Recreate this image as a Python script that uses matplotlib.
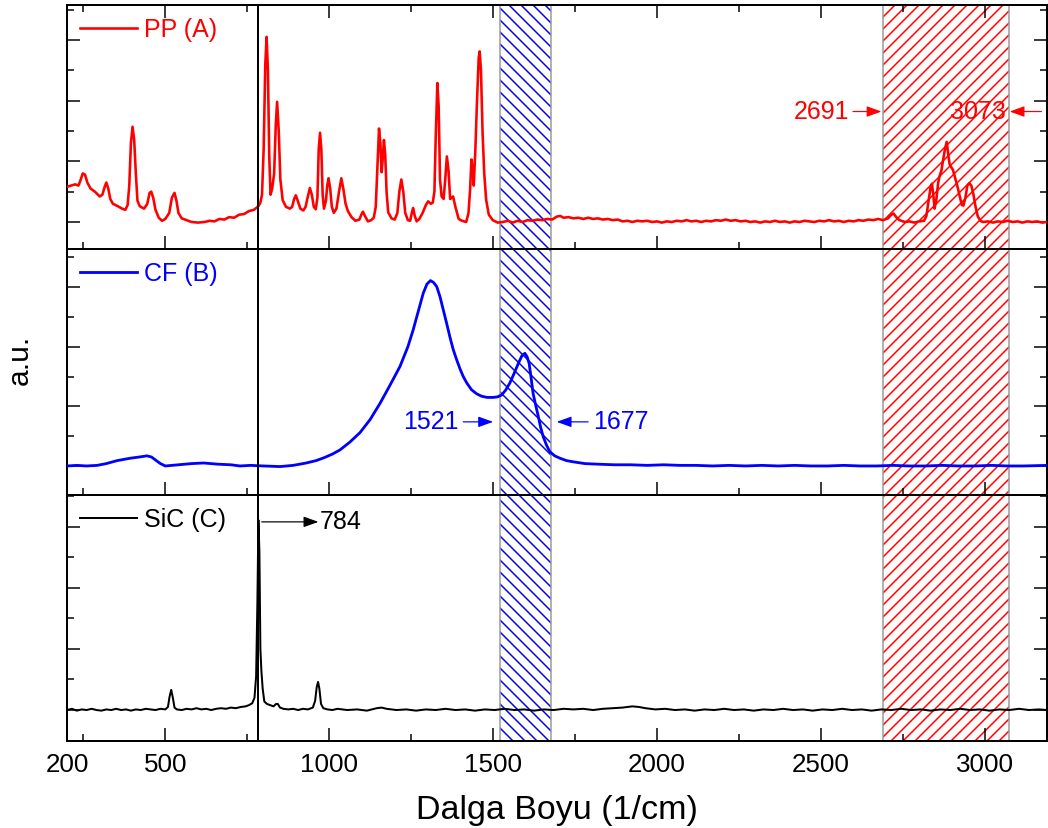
import numpy as np
import matplotlib
matplotlib.use('Agg')
import matplotlib.pyplot as plt
from matplotlib.ticker import MultipleLocator, FixedLocator

plt.rcParams['font.family'] = ['Liberation Sans', 'DejaVu Sans']
plt.rcParams['hatch.linewidth'] = 1.5

# Raman spektrumlari (dalga sayisi, yogunluk)
pp = [(200, 0.58), (212, 0.60), (225, 0.62), (235, 0.60), (242, 0.70), (248, 0.80), (255, 0.78),
      (262, 0.65), (272, 0.55), (285, 0.50), (300, 0.42), (308, 0.45), (315, 0.58), (320, 0.65),
      (326, 0.55), (332, 0.38), (340, 0.30), (355, 0.26), (368, 0.22), (378, 0.20), (385, 0.28),
      (390, 0.60), (395, 1.30), (400, 1.57), (405, 1.35), (410, 0.80), (415, 0.35), (422, 0.26),
      (435, 0.22), (445, 0.30), (452, 0.48), (457, 0.50), (463, 0.40), (470, 0.20), (480, 0.07),
      (490, 0.02), (500, 0.05), (512, 0.15), (520, 0.40), (528, 0.48), (534, 0.35), (540, 0.15),
      (550, 0.06), (565, 0.03), (580, 0.00), (600, -0.01), (620, 0.00), (635, 0.02), (650, 0.01),
      (665, 0.05), (680, 0.04), (695, 0.08), (710, 0.07), (725, 0.12), (740, 0.13), (755, 0.18),
      (770, 0.20), (784, 0.26), (790, 0.32), (795, 0.45), (800, 1.20), (805, 2.60), (809, 3.05),
      (813, 2.50), (817, 1.10), (821, 0.45), (826, 0.55), (832, 0.80), (837, 1.60), (841, 1.98),
      (846, 1.50), (851, 0.70), (858, 0.36), (868, 0.25), (880, 0.22), (887, 0.25), (893, 0.38),
      (898, 0.44), (904, 0.35), (912, 0.22), (921, 0.19), (928, 0.25), (934, 0.40), (941, 0.56),
      (947, 0.45), (953, 0.25), (959, 0.21), (964, 0.40), (968, 1.20), (972, 1.47), (976, 1.20),
      (980, 0.45), (984, 0.22), (990, 0.35), (994, 0.60), (998, 0.72), (1003, 0.55), (1008, 0.25),
      (1014, 0.15), (1022, 0.22), (1030, 0.50), (1037, 0.72), (1043, 0.55), (1050, 0.30),
      (1057, 0.18), (1068, 0.08), (1080, 0.02), (1092, 0.04), (1098, 0.12), (1103, 0.17),
      (1109, 0.10), (1118, 0.01), (1128, 0.03), (1136, 0.07), (1142, 0.25), (1147, 0.90),
      (1152, 1.54), (1156, 1.30), (1160, 0.82), (1164, 1.10), (1167, 1.35), (1171, 1.10),
      (1175, 0.50), (1180, 0.16), (1190, 0.06), (1200, 0.04), (1208, 0.15), (1214, 0.50),
      (1220, 0.70), (1226, 0.50), (1232, 0.15), (1240, 0.03), (1247, 0.02), (1252, 0.15),
      (1256, 0.23), (1261, 0.10), (1267, 0.01), (1275, 0.05), (1285, 0.15), (1295, 0.28),
      (1302, 0.34), (1310, 0.30), (1316, 0.32), (1321, 0.50), (1325, 1.40), (1330, 2.29),
      (1334, 1.90), (1338, 0.70), (1343, 0.42), (1349, 0.38), (1354, 0.70), (1359, 1.08),
      (1364, 0.85), (1369, 0.38), (1374, 0.40), (1378, 0.42), (1385, 0.25), (1395, 0.05),
      (1405, 0.02), (1418, 0.00), (1425, 0.15), (1430, 0.55), (1434, 1.03), (1438, 0.85),
      (1441, 0.60), (1446, 1.20), (1451, 2.00), (1456, 2.70), (1459, 2.81), (1463, 2.50),
      (1468, 1.46), (1473, 0.80), (1479, 0.36), (1487, 0.12), (1499, 0.03), (1514, -0.01),
      (1530, 0.00), (1545, 0.02), (1560, -0.01), (1575, 0.02), (1590, 0.00), (1605, 0.03),
      (1620, 0.02), (1635, 0.04), (1650, 0.03), (1665, 0.05), (1680, 0.04), (1695, 0.09),
      (1705, 0.10), (1715, 0.07), (1730, 0.08), (1745, 0.06), (1760, 0.07), (1775, 0.05),
      (1790, 0.07), (1805, 0.05), (1820, 0.06), (1835, 0.04), (1850, 0.05), (1865, 0.03),
      (1880, 0.04), (1895, 0.01), (1910, 0.02), (1925, 0.00), (1940, 0.02), (1955, 0.01),
      (1970, 0.02), (1985, 0.00), (2000, 0.01), (2015, -0.01), (2030, 0.01), (2045, 0.00),
      (2060, 0.02), (2075, 0.01), (2090, 0.03), (2105, 0.01), (2120, 0.02), (2135, 0.00),
      (2150, 0.02), (2165, 0.01), (2180, 0.03), (2195, 0.02), (2210, 0.04), (2225, 0.02),
      (2240, 0.03), (2255, 0.01), (2270, 0.02), (2285, 0.00), (2300, 0.01), (2315, -0.01),
      (2330, 0.01), (2345, 0.00), (2360, 0.02), (2375, 0.00), (2390, 0.01), (2405, -0.01),
      (2420, 0.01), (2435, 0.00), (2450, 0.02), (2465, 0.01), (2480, 0.00), (2495, 0.02),
      (2510, 0.01), (2525, 0.03), (2540, 0.01), (2555, 0.02), (2570, 0.00), (2585, 0.02),
      (2600, 0.01), (2615, 0.03), (2630, 0.02), (2645, 0.04), (2660, 0.03), (2675, 0.05),
      (2690, 0.03), (2705, 0.06), (2715, 0.12), (2722, 0.14), (2730, 0.08), (2740, 0.03),
      (2756, 0.00), (2770, 0.01), (2785, -0.01), (2800, 0.01), (2815, 0.02), (2822, 0.10),
      (2829, 0.36), (2835, 0.58), (2839, 0.63), (2843, 0.45), (2847, 0.22), (2852, 0.35),
      (2858, 0.65), (2863, 0.77), (2868, 0.85), (2872, 0.99), (2878, 1.18), (2884, 1.32),
      (2889, 1.10), (2893, 0.95), (2898, 0.90), (2903, 0.86), (2910, 0.72), (2917, 0.58),
      (2924, 0.42), (2930, 0.28), (2935, 0.27), (2941, 0.40), (2947, 0.60), (2953, 0.64),
      (2959, 0.60), (2965, 0.47), (2972, 0.25), (2979, 0.09), (2987, 0.02), (2994, 0.00),
      (3010, 0.01), (3025, -0.01), (3040, 0.01), (3055, 0.00), (3070, 0.02), (3085, 0.00),
      (3100, 0.01), (3115, -0.01), (3130, 0.01), (3145, 0.00), (3160, 0.01), (3175, -0.01),
      (3190, 0.00)]

cf = [(200, 0.00), (230, 0.01), (260, 0.00), (292, 0.01), (320, 0.04), (353, 0.09), (393, 0.13),
      (420, 0.15), (444, 0.17), (458, 0.15), (470, 0.10), (485, 0.04), (500, 0.00), (540, 0.02),
      (580, 0.04), (617, 0.05), (660, 0.03), (700, 0.02), (728, 0.00), (760, 0.01), (800, 0.00),
      (850, -0.01), (890, 0.01), (930, 0.05), (960, 0.09), (985, 0.14), (1010, 0.20), (1033, 0.27),
      (1063, 0.40), (1094, 0.56), (1125, 0.78), (1155, 1.05), (1185, 1.35), (1216, 1.67),
      (1240, 2.00), (1256, 2.28), (1272, 2.60), (1287, 2.90), (1298, 3.05), (1309, 3.11),
      (1318, 3.08), (1328, 3.01), (1338, 2.84), (1348, 2.62), (1358, 2.40), (1368, 2.17),
      (1378, 1.96), (1389, 1.78), (1399, 1.63), (1409, 1.50), (1420, 1.39), (1434, 1.28),
      (1450, 1.21), (1465, 1.17), (1482, 1.15), (1500, 1.15), (1514, 1.16), (1526, 1.19),
      (1538, 1.27), (1551, 1.39), (1564, 1.55), (1577, 1.72), (1588, 1.85), (1597, 1.89),
      (1604, 1.83), (1610, 1.72), (1616, 1.48), (1622, 1.22), (1630, 1.02), (1638, 0.83),
      (1645, 0.65), (1653, 0.49), (1663, 0.35), (1673, 0.24), (1688, 0.17), (1704, 0.13),
      (1724, 0.09), (1744, 0.07), (1780, 0.04), (1820, 0.03),
      (1870, 0.02), (1920, 0.02), (1970, 0.01), (2020, 0.02), (2070, 0.01), (2120, 0.01),
      (2170, 0.00), (2220, 0.01), (2270, 0.00), (2320, 0.01), (2370, 0.00), (2420, 0.01),
      (2470, 0.00), (2520, 0.00), (2570, 0.01), (2620, 0.00), (2670, 0.00), (2720, 0.01),
      (2770, 0.00), (2820, 0.00), (2870, 0.01), (2920, 0.00), (2970, 0.00), (3020, 0.01),
      (3070, 0.00), (3120, 0.00), (3190, 0.01)]

sic = [(200, 0.00), (215, 0.02), (230, -0.01), (245, 0.01), (260, 0.00), (275, 0.02), (290, 0.00),
       (305, -0.01), (320, 0.01), (335, 0.00), (350, 0.02), (365, 0.00), (380, 0.01), (395, -0.01),
       (410, 0.01), (425, 0.00), (440, 0.02), (455, 0.01), (470, 0.00), (485, 0.02), (500, 0.01),
       (508, 0.05), (513, 0.22), (518, 0.33), (523, 0.20), (528, 0.04), (535, 0.01), (550, 0.00),
       (565, 0.02), (580, 0.01), (595, 0.03), (610, 0.01), (625, 0.02), (640, 0.00), (655, 0.02),
       (670, 0.03), (685, 0.02), (700, 0.04), (715, 0.03), (730, 0.05), (745, 0.06), (755, 0.08),
       (765, 0.11), (772, 0.20), (777, 0.55), (781, 1.80), (784, 3.11), (787, 2.60), (790, 1.00),
       (793, 0.65), (797, 0.35), (802, 0.14), (810, 0.10), (820, 0.08), (830, 0.06), (838, 0.10),
       (843, 0.10), (850, 0.04), (860, 0.02), (875, 0.01), (890, 0.02), (905, 0.00), (920, 0.02),
       (935, 0.01), (950, 0.04), (957, 0.15), (962, 0.38), (966, 0.46), (970, 0.35), (975, 0.10),
       (982, 0.03), (995, 0.01), (1010, 0.00), (1025, 0.02), (1055, 0.00), (1085, 0.01),
       (1115, -0.01), (1145, 0.03), (1160, 0.04), (1175, 0.02), (1205, 0.00), (1235, 0.01),
       (1265, -0.01), (1295, 0.01), (1325, 0.00), (1355, 0.02), (1385, 0.00), (1415, 0.01),
       (1445, -0.01), (1475, 0.01), (1505, 0.00), (1535, 0.02), (1565, 0.00), (1595, 0.01),
       (1625, -0.01), (1655, 0.01), (1685, 0.00), (1715, 0.02), (1745, 0.01), (1775, 0.02),
       (1805, 0.00), (1835, 0.02), (1865, 0.03), (1895, 0.04), (1925, 0.06), (1945, 0.05),
       (1965, 0.03), (1995, 0.01), (2025, 0.02), (2055, 0.00), (2085, 0.01), (2115, -0.01),
       (2145, 0.01), (2175, 0.00), (2205, 0.02), (2235, 0.00), (2265, 0.01), (2295, -0.01),
       (2325, 0.01), (2355, 0.00), (2385, 0.02), (2415, 0.00), (2445, 0.01), (2475, -0.01),
       (2505, 0.01), (2535, 0.00), (2565, 0.02), (2595, 0.00), (2625, 0.01), (2655, -0.01),
       (2685, 0.01), (2715, 0.00), (2745, 0.02), (2775, 0.00), (2805, 0.01), (2835, -0.01),
       (2865, 0.01), (2895, 0.00), (2925, 0.02), (2955, 0.00), (2985, 0.01), (3015, -0.01),
       (3045, 0.01), (3075, 0.00), (3105, 0.02), (3135, 0.00), (3165, 0.01), (3190, 0.00)]

etiketler = ['PP (A)', 'CF (B)', 'SiC (C)']
renkler = ['#ff0000', '#0000ff', '#000000']
mavi_bant = (1521, 1677)
kirmizi_bant = (2691, 3073)
sic_tepe = 784

fig = plt.figure(figsize=(1048 / 72, 828 / 72), dpi=72)
sol, sag = 67 / 1048, 1047 / 1048
sinirlar = [5, 249, 495, 741]
ylimler = [(-0.445, 3.575), (-0.487, 3.64), (-0.507, 3.52)]
eksenler = []
for i in range(3):
    ust = 1 - sinirlar[i] / 828
    alt = 1 - sinirlar[i + 1] / 828
    ax = fig.add_axes([sol, alt, sag - sol, ust - alt])
    eksenler.append(ax)

for i, (ax, veri) in enumerate(zip(eksenler, [pp, cf, sic])):
    x, y = np.array(veri).T
    lw = [2.6, 2.8, 2.0][i]
    ax.plot(x, y, color=renkler[i], lw=lw, label=etiketler[i], zorder=3)
    ax.set_xlim(200, 3190)
    ax.set_ylim(*ylimler[i])

    # taranmis bantlar
    ax.axvspan(*mavi_bant, facecolor='none', edgecolor='#0000ff', hatch='\\\\', lw=0, zorder=1)
    ax.axvspan(*kirmizi_bant, facecolor='none', edgecolor='#ff0000', hatch='//', lw=0, zorder=1)
    for b in mavi_bant + kirmizi_bant:
        ax.axvline(b, color='#999999', lw=1.5, zorder=2)
    ax.axvline(sic_tepe, color='black', lw=2, zorder=4)

    ax.set_xticks([200, 500, 1000, 1500, 2000, 2500, 3000])
    ax.xaxis.set_minor_locator(FixedLocator(np.arange(250, 3200, 500)))
    ax.yaxis.set_major_locator(MultipleLocator(1))
    ax.yaxis.set_minor_locator(MultipleLocator(0.5))
    ax.set_yticklabels([])
    ax.tick_params(which='both', direction='in', width=1.5, top=(i == 0), right=True,
                   labelbottom=(i == 2), labelsize=26, pad=12)
    ax.tick_params(which='major', length=13)
    ax.tick_params(which='minor', length=7)
    for s in ax.spines.values():
        s.set_linewidth(2)
    ax.legend(loc='upper left', frameon=False, fontsize=25, handlelength=2.3,
              handletextpad=0.3, borderaxespad=0.1, borderpad=0.4, labelcolor='linecolor')

ax1, ax2, ax3 = eksenler
ok = dict(arrowstyle='-|>,head_length=0.5,head_width=0.18', lw=1.2, shrinkA=0, shrinkB=0,
          mutation_scale=25)

ax3.annotate('', xy=(967, 3.08), xytext=(794, 3.08), arrowprops=dict(ok, color='black'))
ax3.text(972, 3.08, '784', fontsize=25, va='center', ha='left', color='black')

ax2.annotate('', xy=(1500, 0.74), xytext=(1409, 0.74), arrowprops=dict(ok, color='#0000ff'))
ax2.text(1394, 0.74, '1521', fontsize=25, va='center', ha='right', color='#0000ff')
ax2.annotate('', xy=(1694, 0.74), xytext=(1790, 0.74), arrowprops=dict(ok, color='#0000ff'))
ax2.text(1805, 0.74, '1677', fontsize=25, va='center', ha='left', color='#0000ff')

ax1.annotate('', xy=(2685, 1.82), xytext=(2598, 1.82), arrowprops=dict(ok, color='#ff0000'))
ax1.text(2588, 1.82, '2691', fontsize=25, va='center', ha='right', color='#ff0000')
ax1.annotate('', xy=(3076, 1.82), xytext=(3173, 1.82), arrowprops=dict(ok, color='#ff0000'))
ax1.text(2893, 1.82, '3073', fontsize=25, va='center', ha='left', color='#ff0000')

ax3.set_xlabel('Dalga Boyu (1/cm)', fontsize=34, labelpad=18)
fig.text(20 / 1048, 1 - 360 / 828, 'a.u.', rotation=90, fontsize=30, ha='center', va='center')

fig.savefig('out.png', dpi=72)
